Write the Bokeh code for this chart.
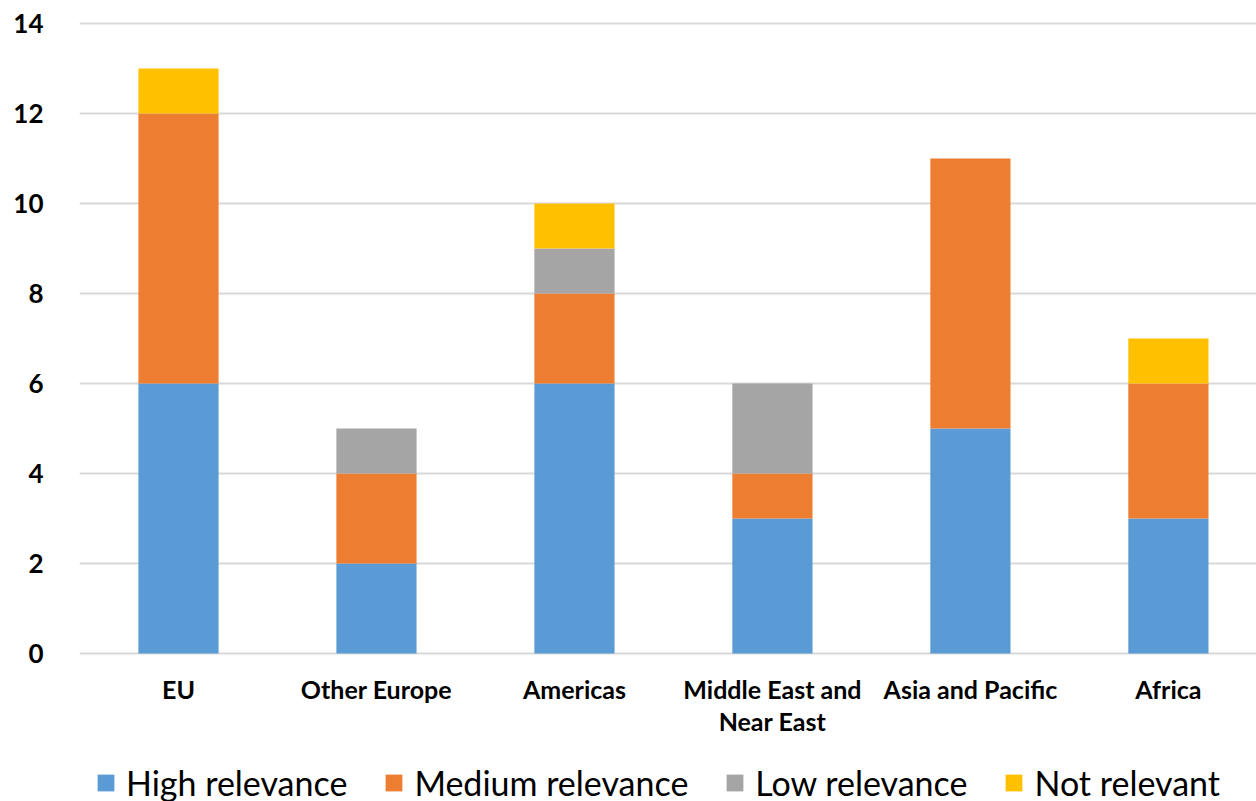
from bokeh.plotting import figure
from bokeh.models import Range1d, FixedTicker, Legend, LegendItem
from bokeh.core.properties import value
from bokeh.embed import file_html
from bokeh.resources import INLINE

# Regions and counts per relevance level
regions = ["EU", "Other Europe", "Americas", "Middle East and\nNear East", "Asia and Pacific", "Africa"]
high = [6, 2, 6, 3, 5, 3]
medium = [6, 2, 2, 1, 6, 3]
low = [0, 1, 1, 2, 0, 0]
not_relevant = [1, 0, 1, 0, 0, 1]

series_names = ["High relevance", "Medium relevance", "Low relevance", "Not relevant"]
series_values = [high, medium, low, not_relevant]
colors = ["#5B9BD5", "#ED7D31", "#A5A5A5", "#FFC000"]
y_ticks = [0, 2, 4, 6, 8, 10, 12, 14]

xs = list(range(len(regions)))

# The frame spans the full height; the band below zero holds the region
# names and the legend.
p = figure(width=1256, height=801, output_backend="svg", toolbar_location=None,
           x_range=Range1d(-0.5, 5.445), y_range=Range1d(-3.289, 14.511),
           min_border_left=79, min_border_right=0, min_border_top=0, min_border_bottom=0)

p.outline_line_color = None
p.background_fill_color = "white"
p.border_fill_color = "white"

# Stacked bars
bottoms = [0] * len(regions)
items = []
for name, vals, col in zip(series_names, series_values, colors):
    tops = [b + v for b, v in zip(bottoms, vals)]
    r = p.vbar(x=xs, width=0.405, bottom=bottoms, top=tops, fill_color=col, line_color=None)
    items.append(LegendItem(label=name, renderers=[r]))
    bottoms = tops

# Region names under the bars
p.text(x=xs, y=[0] * len(regions), text=regions, y_offset=21,
       text_align="center", text_baseline="top",
       text_font=value("Lato"), text_font_style="bold", text_font_size="25px",
       text_color="black", text_line_height=1.05)

# Value axis
p.yaxis.ticker = FixedTicker(ticks=y_ticks)
p.yaxis.axis_line_color = None
p.yaxis.major_tick_line_color = None
p.yaxis.minor_tick_line_color = None
p.yaxis.major_label_text_font = "Lato"
p.yaxis.major_label_text_font_style = "bold"
p.yaxis.major_label_text_font_size = "26px"
p.yaxis.major_label_text_color = "black"
p.yaxis.major_label_standoff = 30

p.xaxis.visible = False

# Grid
p.xgrid.grid_line_color = None
p.ygrid.ticker = FixedTicker(ticks=y_ticks)
p.ygrid.grid_line_color = "#D9D9D9"
p.ygrid.grid_line_width = 2

legend = Legend(items=items, orientation="horizontal", location=(16, -2),
                label_text_font="Lato", label_text_font_size="34px",
                label_text_color="black", glyph_width=21, glyph_height=21,
                spacing=36, label_standoff=10, padding=0, margin=0,
                border_line_color=None, background_fill_alpha=0)
p.add_layout(legend, "center")

open("out.html", "w").write(file_html(p, INLINE))
